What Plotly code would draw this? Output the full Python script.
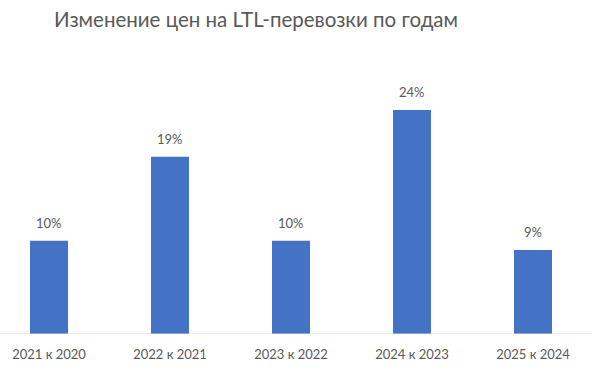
import plotly.graph_objects as go

categories = ["2021 к 2020", "2022 к 2021", "2023 к 2022", "2024 к 2023", "2025 к 2024"]
values = [10, 19, 10, 24, 9]
labels = ["10%", "19%", "10%", "24%", "9%"]
title = "Изменение цен на LTL-перевозки по годам"

FONT = "Lato, Open Sans, sans-serif"

fig = go.Figure()
fig.add_trace(go.Bar(
    x=list(range(len(categories))), y=values,
    marker=dict(color="#4472C4", line=dict(width=0)),
    width=0.314, hoverinfo="skip",
))
for i, (v, t) in enumerate(zip(values, labels)):
    fig.add_annotation(x=i, y=v, text=t, showarrow=False, yanchor="bottom",
                       yshift=8, font=dict(family=FONT, size=13, color="#595959"))

fig.update_layout(
    width=592, height=375,
    margin=dict(l=0, r=0, t=0, b=41),
    paper_bgcolor="white", plot_bgcolor="white",
    showlegend=False,
    title=dict(text=title, x=256/592, xanchor="center", y=1 - 20/375, yanchor="middle",
               xref="paper", yref="container",
               font=dict(family=FONT, size=20.5, color="#595959")),
    xaxis=dict(
        range=[-49/121, -49/121 + 592/121],
        tickmode="array", tickvals=list(range(len(categories))), ticktext=categories,
        showgrid=False, zeroline=False, showline=False, ticks="",
        ticklabelstandoff=11,
        tickfont=dict(family=FONT, size=13, color="#595959"),
        fixedrange=True,
    ),
    yaxis=dict(range=[0, 334 / 9.33], visible=False, showgrid=False, zeroline=False, fixedrange=True),
    shapes=[dict(type="line", xref="paper", yref="y", x0=0, x1=1, y0=0, y1=0,
                 line=dict(color="#D9D9D9", width=1))],
)
fig.write_html("out.html", config={"displayModeBar": False},
               post_script="document.body.style.margin='0';document.body.style.overflow='hidden';")
